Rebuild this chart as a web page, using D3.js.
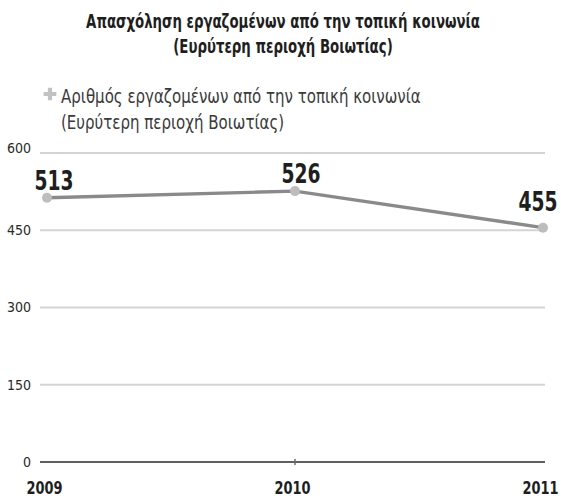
<!DOCTYPE html>
<html>
<head>
<meta charset="utf-8">
<script src="https://cdn.jsdelivr.net/npm/d3@7"></script>
<style>
  html, body { margin: 0; padding: 0; background: #fff; }
  svg { display: block; }
</style>
</head>
<body>
<svg id="chart" width="561" height="499"></svg>
<script>
// Employment of workers from the local community, wider Boeotia area
const titleLines = ["Απασχόληση εργαζομένων από την τοπική κοινωνία", "(Ευρύτερη περιοχή Βοιωτίας)"];
const legendLines = ["Αριθμός εργαζομένων από την τοπική κοινωνία", "(Ευρύτερη περιοχή Βοιωτίας)"];
const years = ["2009", "2010", "2011"];
const employees = [513, 526, 455];
const yTicks = [0, 150, 300, 450, 600];

const svg = d3.select("#chart");

const x = d3.scalePoint().domain(years).range([47, 543]);
const y = d3.scaleLinear().domain([0, 600]).range([462, 153]);

const font = '"DejaVu Sans Condensed", "DejaVu Sans", sans-serif';
const BOLD_SQUEEZE = 0.77;

// place a text at (px, py) and narrow it horizontally around its anchor
function squeeze(sel, px, py, sx) {
  sel.attr("x", 0).attr("y", 0)
     .attr("transform", (d, i) => `translate(${px(d, i)},${py(d, i)}) scale(${sx},1)`);
}

// slight softening for the series marks; a generous user-space region so thin
// or translated shapes are never clipped
const defs = svg.append("defs");
defs.append("filter").attr("id", "soft")
  .attr("filterUnits", "userSpaceOnUse")
  .attr("x", -600).attr("y", -600).attr("width", 1800).attr("height", 1800)
  .append("feGaussianBlur").attr("stdDeviation", 0.7);

// title
svg.append("g").selectAll("text").data(titleLines).join("text")
  .attr("text-anchor", "middle")
  .attr("font-family", font).attr("font-weight", "bold")
  .attr("font-size", 20).attr("fill", "#1e1e1e")
  .text(d => d)
  .call(squeeze, () => 283, (d, i) => 28 + i * 25, 0.74);

// legend
const legend = svg.append("g");
legend.append("path")
  .attr("d", d3.symbol(d3.symbolCross, 90)())
  .attr("transform", "translate(50,94)")
  .attr("fill", "#c2c2c2").attr("filter", "url(#soft)");
legend.selectAll("text").data(legendLines).join("text")
  .attr("font-family", font)
  .attr("font-size", 19).attr("fill", "#3a3a3a")
  .text(d => d)
  .call(squeeze, () => 61, (d, i) => 103 + i * 26, 0.88);

// horizontal grid
const gridX0 = 40, gridX1 = 545;
svg.append("g").selectAll("line").data(yTicks.filter(d => d > 0)).join("line")
  .attr("x1", gridX0).attr("x2", gridX1)
  .attr("y1", d => y(d)).attr("y2", d => y(d))
  .attr("stroke", "#d4d4d4").attr("stroke-width", 2);

// baseline
svg.append("line")
  .attr("x1", gridX0).attr("x2", gridX1)
  .attr("y1", y(0)).attr("y2", y(0))
  .attr("stroke", "#5e5e5e").attr("stroke-width", 2.2)
  .attr("filter", "url(#soft)");

// y axis labels
const yAxis = svg.append("g").attr("transform", "translate(31,0)")
  .call(d3.axisLeft(y).tickValues(yTicks).tickSize(0).tickPadding(0));
yAxis.select(".domain").remove();
yAxis.selectAll("text")
  .attr("font-family", font).attr("font-size", 14).attr("fill", "#2a2a2a")
  .attr("dy", d => d === 600 ? "-0.05em" : "0.32em");

// x axis labels
const xAxis = svg.append("g").attr("transform", "translate(0,494)")
  .call(d3.axisBottom(x).tickSize(0).tickPadding(0));
xAxis.select(".domain").remove();
xAxis.selectAll(".tick text")
  .attr("font-family", font).attr("font-weight", "bold")
  .attr("font-size", 18).attr("fill", "#1e1e1e")
  .attr("text-anchor", "middle").attr("dy", 0)
  .call(squeeze, () => -3, () => 0, 0.8);

// small tick on the baseline at the middle category
svg.append("line")
  .attr("x1", x("2010")).attr("x2", x("2010"))
  .attr("y1", y(0) - 3).attr("y2", y(0) + 3)
  .attr("stroke", "#6a6a6a").attr("stroke-width", 1.5);

// series line and markers
const pts = years.map((yr, i) => ({ yr, v: employees[i] }));
svg.append("path")
  .datum(pts)
  .attr("d", d3.line().x(d => x(d.yr)).y(d => y(d.v)))
  .attr("fill", "none").attr("stroke", "#8a8a8a").attr("stroke-width", 3.4)
  .attr("filter", "url(#soft)");

svg.append("g").selectAll("circle").data(pts).join("circle")
  .attr("cx", d => x(d.yr)).attr("cy", d => y(d.v)).attr("r", 5)
  .attr("fill", "#bdbdbd").attr("filter", "url(#soft)");

// value labels
const labelOffset = [[7, -8], [6, -8], [-5, -17]];
svg.append("g").selectAll("text").data(pts).join("text")
  .attr("text-anchor", "middle")
  .attr("font-family", font).attr("font-weight", "bold")
  .attr("font-size", 27).attr("fill", "#1e1e1e")
  .text(d => d.v)
  .call(squeeze, (d, i) => x(d.yr) + labelOffset[i][0], (d, i) => y(d.v) + labelOffset[i][1], BOLD_SQUEEZE);
</script>
</body>
</html>
